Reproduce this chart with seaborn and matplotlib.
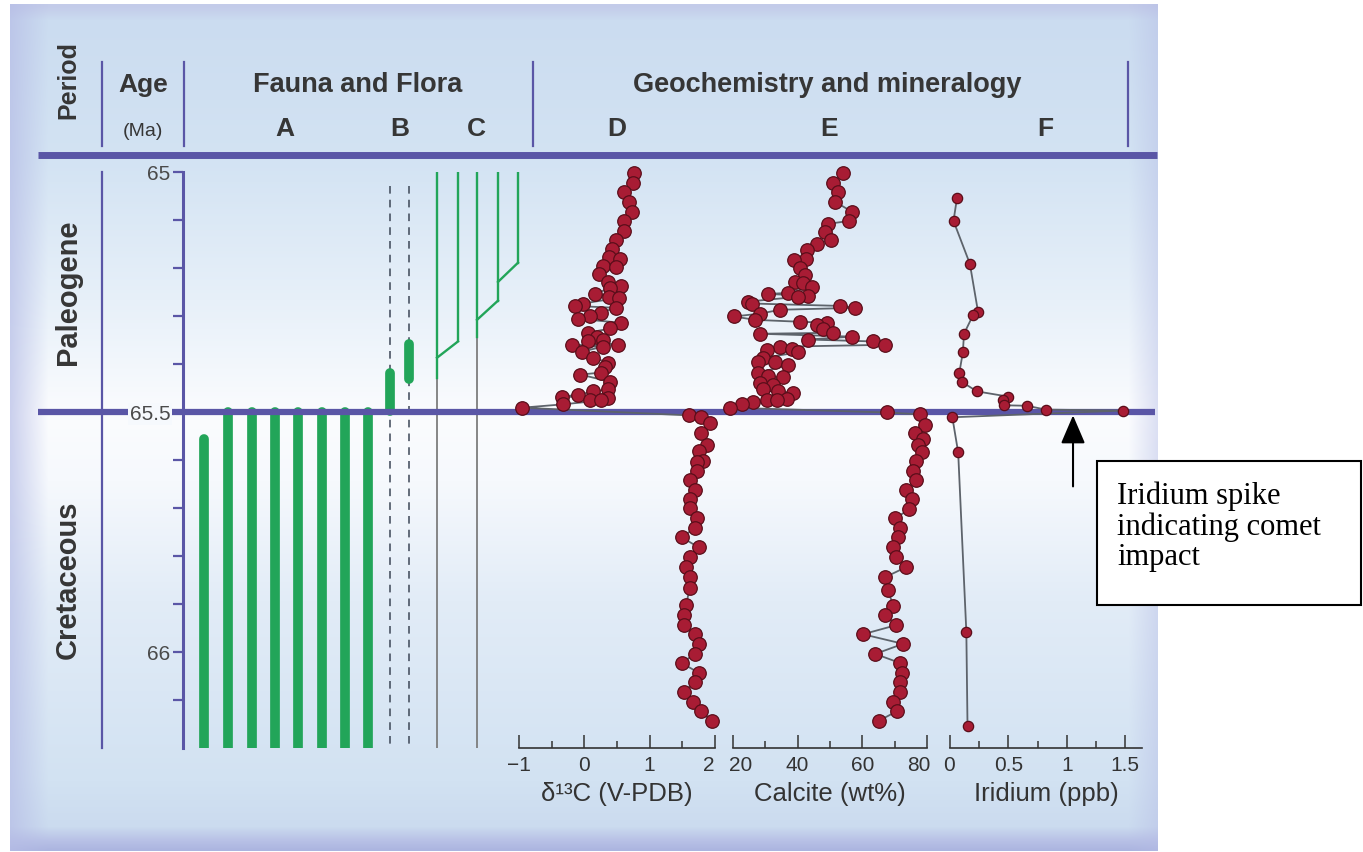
import numpy as np
import pandas as pd
import matplotlib
matplotlib.use('Agg')
import matplotlib.pyplot as plt
from matplotlib.colors import to_rgb
from matplotlib.patches import Rectangle
from matplotlib.transforms import ScaledTranslation
import seaborn as sns

plt.rcParams['font.family'] = ['Liberation Sans', 'DejaVu Sans']

# ---------------- data ----------------
# D: delta 13C (V-PDB) against age (Ma)
d13c_age = [65.002, 65.023, 65.042, 65.062, 65.083, 65.102, 65.123, 65.141, 65.160, 65.177,
            65.181, 65.195, 65.198, 65.212, 65.229, 65.237, 65.241, 65.254, 65.260, 65.262,
            65.274, 65.279, 65.283, 65.293, 65.301, 65.306, 65.314, 65.326, 65.335, 65.343,
            65.349, 65.352, 65.360, 65.361, 65.364, 65.374, 65.387, 65.397, 65.407, 65.418,
            65.422, 65.437, 65.453, 65.457, 65.464, 65.468, 65.470, 65.474, 65.476, 65.484,
            65.491,
            65.507, 65.511, 65.522, 65.543, 65.568, 65.582, 65.603, 65.605, 65.622, 65.642,
            65.663, 65.682, 65.701, 65.721, 65.742, 65.761, 65.782, 65.802, 65.823, 65.844,
            65.867, 65.902, 65.923, 65.944, 65.963, 65.983, 66.004, 66.023, 66.044, 66.062,
            66.083, 66.104, 66.123, 66.143]
d13c_val = [0.76, 0.74, 0.60, 0.68, 0.73, 0.60, 0.60, 0.49, 0.43, 0.37,
            0.54, 0.28, 0.48, 0.23, 0.36, 0.56, 0.40, 0.17, 0.37, 0.53,
            -0.02, -0.14, 0.48, 0.25, 0.09, -0.09, 0.56, 0.40, 0.05, 0.20,
            0.28, 0.05, 0.51, -0.19, 0.28, -0.03, 0.14, 0.36, 0.32, 0.25,
            -0.06, 0.40, 0.36, 0.14, -0.09, -0.34, 0.36, 0.09, 0.25, -0.32,
            -0.95,
            1.60, 1.79, 1.92, 1.79, 1.87, 1.75, 1.82, 1.72, 1.72, 1.61,
            1.69, 1.61, 1.61, 1.72, 1.69, 1.49, 1.75, 1.61, 1.56, 1.62,
            1.61, 1.56, 1.53, 1.53, 1.69, 1.76, 1.69, 1.49, 1.76, 1.70,
            1.53, 1.67, 1.78, 1.95]

# E: calcite (wt%) against age (Ma)
calcite_age = [65.002, 65.023, 65.042, 65.062, 65.083, 65.102, 65.108, 65.125, 65.141, 65.150,
               65.162, 65.181, 65.183, 65.200, 65.214, 65.229, 65.231, 65.239, 65.252, 65.254,
               65.258, 65.260, 65.270, 65.274, 65.279, 65.283, 65.287, 65.295, 65.301, 65.308,
               65.312, 65.314, 65.318, 65.328, 65.335, 65.337, 65.343, 65.349, 65.353, 65.360,
               65.364, 65.368, 65.370, 65.376, 65.387, 65.395, 65.396, 65.403, 65.418, 65.426,
               65.428, 65.439, 65.443, 65.453, 65.457, 65.460, 65.472, 65.474, 65.475, 65.480,
               65.484, 65.491, 65.501,
               65.505, 65.528, 65.543, 65.557, 65.568, 65.584, 65.603, 65.622, 65.642, 65.663,
               65.682, 65.703, 65.721, 65.742, 65.761, 65.782, 65.802, 65.823, 65.844, 65.871,
               65.904, 65.923, 65.944, 65.963, 65.983, 66.004, 66.023, 66.044, 66.062, 66.083,
               66.104, 66.123, 66.143]
calcite_val = [54.1, 51.0, 52.5, 51.6, 56.8, 55.9, 49.4, 48.5, 50.3, 46.0,
               42.9, 42.6, 38.9, 40.7, 42.3, 39.2, 41.7, 44.5, 37.0, 30.8,
               43.2, 40.1, 24.6, 25.9, 53.1, 57.8, 34.6, 28.4, 20.3, 26.8,
               40.7, 49.1, 46.0, 47.9, 51.0, 28.4, 56.8, 43.2, 63.3, 67.1,
               34.6, 38.3, 30.5, 40.1, 29.3, 33.0, 27.7, 37.0, 27.7, 30.8,
               35.5, 28.4, 32.4, 29.3, 33.9, 38.6, 36.7, 30.5, 33.6, 26.2,
               22.8, 19.1, 67.7,
               77.9, 79.4, 76.3, 78.8, 77.3, 78.5, 76.7, 75.7, 76.7, 73.6,
               75.4, 74.5, 70.2, 71.7, 71.1, 69.5, 70.5, 73.6, 67.1, 68.0,
               69.5, 67.1, 70.5, 60.2, 72.6, 64.0, 71.7, 72.3, 71.7, 71.7,
               69.5, 70.8, 65.2]

# F: iridium (ppb) against age (Ma)
iridium_age = [65.054, 65.102, 65.191, 65.291, 65.297, 65.337, 65.376, 65.418, 65.437, 65.457,
               65.468, 65.474, 65.486, 65.487, 65.495, 65.497, 65.511, 65.584, 65.958, 66.154]
iridium_val = [0.06, 0.03, 0.17, 0.24, 0.20, 0.12, 0.11, 0.08, 0.10, 0.23,
               0.50, 0.45, 0.46, 0.66, 0.82, 1.48, 0.02, 0.07, 0.14, 0.15]

periods = ['Paleogene', 'Cretaceous']
period_top = [65.0, 65.5]
period_base = [65.5, 66.2]
kpg_boundary = 65.5

# A: foraminifera ranges (Ma)
taxa_a_top = [65.557, 65.5, 65.5, 65.5, 65.5, 65.5, 65.5, 65.5]
taxa_a_base = [66.2, 66.2, 66.2, 66.2, 66.2, 66.2, 66.2, 66.2]
# B: short ranges on dashed guides
taxa_b_top = [65.418, 65.358]
taxa_b_base = [65.497, 65.432]
taxa_b_guide = [65.03, 66.2]
# C: flora lineages (green range, gray continuation, branch joins)
flora_c_top = [65.0, 65.0, 65.0, 65.0, 65.0]
flora_c_base = [65.43, 65.353, 65.343, 65.268, 65.189]
flora_c_persist = [True, False, True, False, False]
flora_c_branch_to = [None, 0, None, 2, 3]
flora_c_branch_age = [None, 65.387, None, 65.308, 65.229]

# ---------------- layout ----------------
W, H = 1363, 852
purple = '#5a56a6'
green = '#22a559'
txt = '#363636'
a_x = [204, 228, 252, 275, 298, 322, 345, 368]
b_x = [390, 409]
c_x = [437, 458, 477, 498, 518]

fig = plt.figure(figsize=(W / 100, H / 100), dpi=100)

# background gradient
ax_bg = fig.add_axes([0, 0, 1, 1])
ys = np.arange(H)
xs = np.arange(W)
stops_y = [0, 6, 20, 160, 300, 415, 480, 600, 780, 826, 840, 851]
stops_c = ['#c3cbe9', '#c3cbe9', '#cbdcf0', '#d3e3f3', '#e7f0f9', '#fbfcfe',
           '#f6f9fd', '#e2ecf7', '#d2e2f2', '#cbdbef', '#b8c1e6', '#aab3df']
rgb = np.array([to_rgb(c) for c in stops_c])
col = np.stack([np.interp(ys, stops_y, rgb[:, k]) for k in range(3)], axis=1)
img = np.repeat(col[:, None, :], W, axis=1)
lav = np.array(to_rgb('#b6bde6'))
alpha = np.maximum(np.clip((48 - xs) / 38, 0, 1) * 0.7, np.clip((xs - 1128) / 29, 0, 1) * 0.45)
alpha = alpha[None, :, None]
img = img * (1 - alpha) + lav * alpha
outside = (xs[None, :] < 10) | (xs[None, :] > 1157) | (ys[:, None] < 4) | (ys[:, None] > 850)
img[outside] = 1.0
ax_bg.imshow(img, extent=(0, W, H, 0), aspect='auto', interpolation='bilinear')
ax_bg.set_xlim(0, W)
ax_bg.set_ylim(H, 0)
ax_bg.axis('off')

# header
ax_bg.plot([38, 1157], [155, 155], color=purple, lw=5, solid_capstyle='butt')
for x in [102, 184, 533, 1128]:
    ax_bg.plot([x, x], [62, 146], color=purple, lw=1.6)
bold = dict(fontweight='bold', color=txt, ha='center', va='center')
ax_bg.text(68, 80, 'Period', rotation=90, fontsize=18, **bold)
ax_bg.text(143, 85, 'Age', fontsize=19, **bold)
ax_bg.text(143, 131, '(Ma)', fontsize=14, color=txt, ha='center', va='center')
ax_bg.text(358, 85, 'Fauna and Flora', fontsize=19.5, **bold)
ax_bg.text(827, 85, 'Geochemistry and mineralogy', fontsize=19.5, **bold)
for lab, x in zip('ABCDEF', [285, 400, 476, 617, 829, 1045]):
    ax_bg.text(x, 129, lab, fontsize=19, **bold)

# annotation box
ax_bg.add_patch(Rectangle((1097, 461), 264, 144, facecolor='white', edgecolor='black', lw=1.5))
ax_bg.text(1117, 527, 'Iridium spike\nindicating comet\nimpact', fontsize=22,
           family=['Liberation Serif', 'DejaVu Serif'], ha='left', va='center', linespacing=1.05)


def px_axes(x0, x1, y0=172, y1=748):
    a = fig.add_axes([x0 / W, 1 - y1 / H, (x1 - x0) / W, (y1 - y0) / H])
    a.patch.set_visible(False)
    return a


# ---------------- age axis + fauna & flora ----------------
ax = px_axes(183, 530)
ax.set_xlim(183, 530)
ax.set_ylim(66.2, 65.0)
for s in ['right', 'top', 'bottom']:
    ax.spines[s].set_visible(False)
ax.spines['left'].set_color(purple)
ax.spines['left'].set_linewidth(2.2)
ax.set_xticks([])
ax.set_yticks([65.0, 65.5, 66.0])
ax.set_yticklabels(['65', '65.5', '66'])
ax.set_yticks([65.1, 65.2, 65.3, 65.4, 65.6, 65.7, 65.8, 65.9, 66.1], minor=True)
ax.tick_params(axis='y', which='both', direction='out', length=7, width=1.6, color=purple,
               labelsize=15, labelcolor='#4a4a4a', pad=2)
for t in ax.get_yticklabels():
    if t.get_text() == '65.5':
        t.set_bbox(dict(facecolor='#f6f9fd', edgecolor='none', pad=1))

# K-Pg boundary and period column
ax.plot([38, 1155], [kpg_boundary, kpg_boundary], color=purple, lw=4.5,
        solid_capstyle='butt', clip_on=False, zorder=1.4)
ax.plot([102, 102], [period_top[0], period_base[-1]], color=purple, lw=1.6, clip_on=False)
for name, t0, t1 in zip(periods, period_top, period_base):
    ax.text(68, (t0 + t1) / 2, name, rotation=90, fontsize=21, clip_on=False, **bold)

# A
ax.vlines(a_x, taxa_a_top, taxa_a_base, colors=green, lw=7, capstyle='round', zorder=1.2)
# B
ax.vlines(b_x, taxa_b_guide[0], taxa_b_guide[1], colors='#3c4656', lw=1.1,
          linestyles=(0, (5, 4)), zorder=1.1)
ax.vlines(b_x, taxa_b_top, taxa_b_base, colors=green, lw=7, capstyle='round', zorder=1.2)
# C
for i, x in enumerate(c_x):
    ax.plot([x, x], [flora_c_top[i], flora_c_base[i]], color=green, lw=1.7, zorder=1.3)
    if flora_c_persist[i]:
        ax.plot([x, x], [flora_c_base[i], period_base[-1]], color='#7d7d7d', lw=1.3, zorder=1.2)
    j = flora_c_branch_to[i]
    if j is not None:
        ax.plot([x, c_x[j]], [flora_c_base[i], flora_c_branch_age[i]], color=green, lw=1.7,
                zorder=1.3)


# ---------------- geochemistry panels ----------------
def geo_panel(x0, x1, xlim, major, minor, label, age, val, size):
    a = px_axes(x0, x1)
    df = pd.DataFrame({'age': age, 'val': val})
    sns.lineplot(data=df, x='val', y='age', orient='y', sort=True, estimator=None,
                 color='#5d636b', lw=1.3, ax=a, zorder=2)
    sns.scatterplot(data=df, x='val', y='age', s=size, color='#a81c34', edgecolor='#5a0e1a',
                    linewidth=0.9, ax=a, zorder=3, clip_on=False)
    a.set_xlim(*xlim)
    a.set_ylim(66.2, 65.0)
    for s in ['left', 'right', 'top']:
        a.spines[s].set_visible(False)
    a.spines['bottom'].set_color('#333333')
    a.spines['bottom'].set_linewidth(1.2)
    a.set_xticks(major)
    a.set_xticks(minor, minor=True)
    a.set_yticks([])
    a.tick_params(axis='x', which='major', direction='in', length=9.5, width=1.1,
                  color='#333333', labelsize=15, labelcolor='#333333', pad=6)
    a.tick_params(axis='x', which='minor', direction='in', length=5, width=1.1, color='#333333')
    a.set_xlabel(label, fontsize=18.5, color='#333333', labelpad=5)
    a.set_ylabel('')
    return a


ax_d = geo_panel(519, 715, (-1, 2), [-1, 0, 1, 2], [-0.5, 0.5, 1.5],
                 'δ¹³C (V-PDB)', d13c_age, d13c_val, 95)
ax_e = geo_panel(733, 927, (20, 80), [20, 40, 60, 80], [30, 50, 70],
                 'Calcite (wt%)', calcite_age, calcite_val, 95)
ax_f = geo_panel(950, 1142, (0, 1.645), [0, 0.5, 1, 1.5], [0.25, 0.75, 1.25],
                 'Iridium (ppb)', iridium_age, iridium_val, 55)
ax_f.set_xticklabels(['0', '0.5', '1', '1.5'])


# nudge the crowded end labels apart, as in the original
def nudge(a, idx, dx_px):
    lab = a.xaxis.get_major_ticks()[idx].label1
    lab.set_transform(lab.get_transform() + ScaledTranslation(dx_px / 100, 0, fig.dpi_scale_trans))


nudge(ax_d, -1, -6)
nudge(ax_e, 0, 8)
nudge(ax_e, -1, -8)
nudge(ax_f, 0, -1)

# arrow to the iridium spike
ax_f.annotate('', xy=(1.054, 65.507), xytext=(1.054, 65.655), annotation_clip=False,
              arrowprops=dict(arrowstyle='-|>,head_length=0.7,head_width=0.3', mutation_scale=25,
                              color='black', lw=1.5, shrinkA=0, shrinkB=0))

fig.savefig('out.png', dpi=100)
